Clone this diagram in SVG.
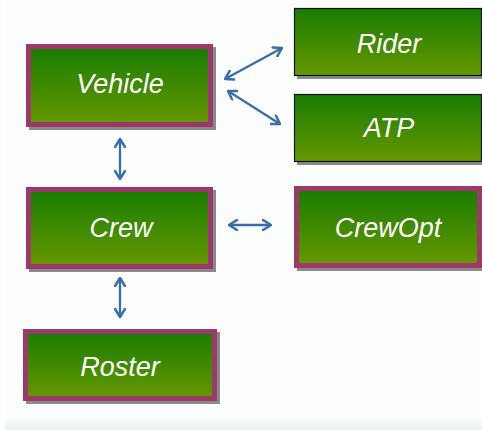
<svg xmlns="http://www.w3.org/2000/svg" width="482" height="430" viewBox="0 0 482 430">
  <defs>
    <linearGradient id="boxFill" x1="0" y1="0" x2="0" y2="1">
      <stop offset="0" stop-color="#187c00"/>
      <stop offset="1" stop-color="#679800"/>
    </linearGradient>
    <linearGradient id="floor" x1="0" y1="0" x2="0" y2="1">
      <stop offset="0" stop-color="#fcfdfc"/>
      <stop offset="1" stop-color="#eaf1ee"/>
    </linearGradient>
    <marker id="chev" viewBox="0 0 10 12" refX="9" refY="6" markerWidth="10" markerHeight="12" markerUnits="userSpaceOnUse" orient="auto-start-reverse">
      <path d="M1,1 L9,6 L1,11" fill="none" stroke="#3a6ea8" stroke-width="2.5" stroke-linecap="round" stroke-linejoin="round"/>
    </marker>
  </defs>
  <style>
    .shadow { fill: #8a8a8a; }
    .mod { fill: url(#boxFill); stroke: #9c386a; stroke-width: 5; }
    .ext { fill: url(#boxFill); stroke: #111; stroke-width: 1.2; }
    .label { font-family: "Liberation Sans", Arial, sans-serif; font-style: italic; font-size: 27px; fill: #ffffff; text-anchor: middle; }
    .link { fill: none; stroke: #3a6ea8; stroke-width: 2.3; marker-start: url(#chev); marker-end: url(#chev); }
  </style>

  <!-- backdrop -->
  <rect x="0" y="0" width="482" height="430" fill="#fcfdfd"/>
  <rect x="0" y="0" width="5" height="430" fill="#ffffff"/>
  <rect x="5" y="418" width="477" height="12" fill="url(#floor)"/>

  <g id="connectors">
    <path class="link" d="M225,79 L282,48"/>
    <path class="link" d="M228,91 L280,124"/>
    <path class="link" d="M120,139 L120,179"/>
    <path class="link" d="M229,225 L271,225"/>
    <path class="link" d="M120,278 L120,317"/>
  </g>

  <g id="vehicle">
    <rect class="shadow" x="29" y="47" width="187" height="83"/>
    <rect class="mod" x="28.5" y="46.5" width="182" height="78"/>
    <text class="label" x="120" y="93">Vehicle</text>
  </g>

  <g id="rider">
    <rect class="shadow" x="297" y="11" width="185" height="68"/>
    <rect class="ext" x="294.5" y="8.5" width="187" height="67"/>
    <text class="label" x="389" y="53">Rider</text>
  </g>

  <g id="atp">
    <rect class="shadow" x="297" y="97" width="185" height="68"/>
    <rect class="ext" x="294.5" y="94.5" width="187" height="67"/>
    <text class="label" x="389" y="137">ATP</text>
  </g>

  <g id="crew">
    <rect class="shadow" x="29" y="190" width="187" height="82"/>
    <rect class="mod" x="28.5" y="189.5" width="182" height="77"/>
    <text class="label" x="121" y="237">Crew</text>
  </g>

  <g id="crewopt">
    <rect class="shadow" x="297" y="189" width="185" height="82"/>
    <rect class="mod" x="296.5" y="188.5" width="183" height="77"/>
    <text class="label" x="388" y="237">CrewOpt</text>
  </g>

  <g id="roster">
    <rect class="shadow" x="26" y="332" width="194" height="72"/>
    <rect class="mod" x="25.5" y="331.5" width="189" height="67"/>
    <text class="label" x="120" y="376">Roster</text>
  </g>
</svg>
